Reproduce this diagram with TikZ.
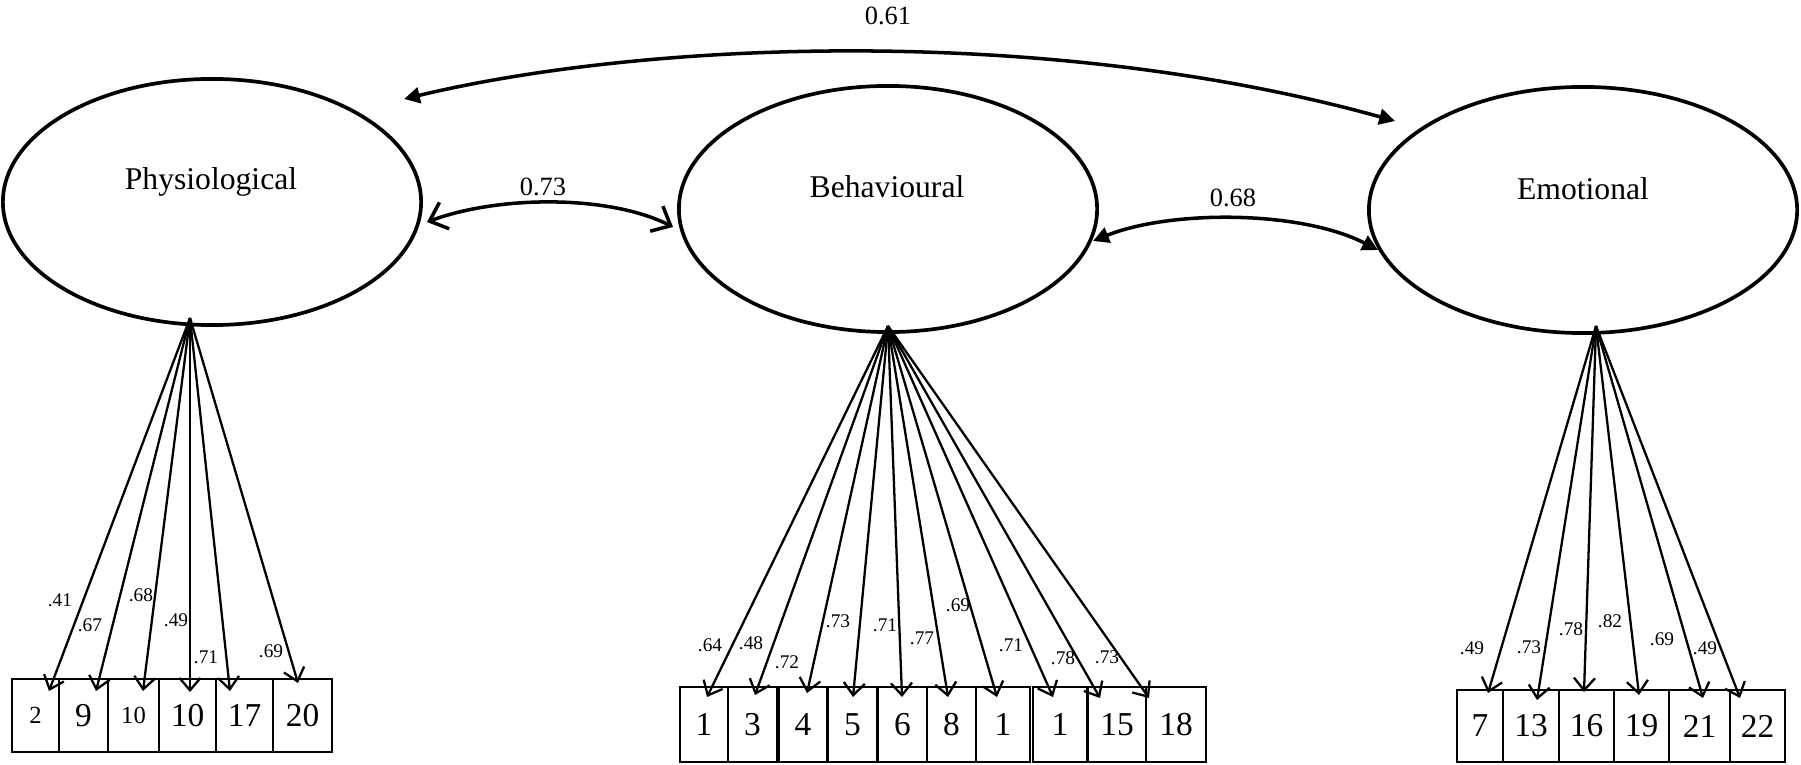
\documentclass[tikz,border=0pt]{standalone}
\usepackage{fontspec}
\setmainfont{Liberation Serif}
\usepackage{tikz}
\usetikzlibrary{shapes.geometric}
\usetikzlibrary{arrows.meta}

\newcommand{\smallnum}[1]{{\fontsize{7}{8}\selectfont #1}}

\begin{document}
\begin{tikzpicture}[x=0.01cm, y=-0.01cm,
	latent/.style={ellipse, draw, line width=1.05pt, minimum width=4.18cm, minimum height=2.46cm, inner sep=0pt},
	factorname/.style={font=\fontsize{9}{11}\selectfont, inner sep=0pt},
	item/.style={rectangle, draw, line width=0.8pt, minimum height=0.73cm, inner sep=0pt, font=\fontsize{9.5}{11}\selectfont},
	load/.style={line width=0.65pt, -{Straight Barb[length=3.5pt,width=6pt]}},
	loadlbl/.style={font=\fontsize{5.5}{6}\selectfont, inner sep=0pt},
	corr/.style={line width=1pt, {Triangle[length=4.5pt,width=4.5pt]}-{Triangle[length=4.5pt,width=4.5pt]}},
	corrbarb/.style={line width=1pt, {Straight Barb[length=4.5pt,width=8pt]}-{Straight Barb[length=4.5pt,width=8pt]}},
	corrlbl/.style={font=\fontsize{7.5}{9}\selectfont, inner sep=0pt}]
	\useasboundingbox (0,0) rectangle (1801,764);
	% Latent factors
	\node[latent] (phys) at (212,202) {};
	\node[latent] (beh) at (888,209) {};
	\node[latent, minimum width=4.28cm] (emo) at (1583,210) {};
	\node[factorname] (physname) at (211,182) {Physiological};
	\node[factorname] (behname) at (887,187) {Behavioural};
	\node[factorname] (emoname) at (1583,189) {Emotional};
	% Correlations
	\coordinate (c61a) at (404,99);
	\coordinate (c61b) at (1395,121);
	\coordinate (c73a) at (427,222);
	\coordinate (c73b) at (673,227);
	\coordinate (c68a) at (1093,241);
	\coordinate (c68b) at (1378,250);
	\draw[corr] (c61a) .. controls (650,40) and (1050,25) .. (c61b);
	\draw[corrbarb] (c73a) .. controls (500,195) and (610,195) .. (c73b);
	\draw[corr] (c68a) .. controls (1170,210) and (1300,210) .. (c68b);
	\node[corrlbl] (r61) at (888,16) {0.61};
	\node[corrlbl] (r73) at (543,187) {0.73};
	\node[corrlbl] (r68) at (1233,198) {0.68};
	% Items
	\foreach \l/\r/\t [count=\i] in {12/59/\smallnum{2}, 59/108/9, 108/159/\smallnum{10}, 159/216/10, 216/273/17, 273/332/20}
		\node[item, minimum width={(\r-\l)*0.01cm}] (p\i) at ({(\l+\r)/2},715.5) {\t};
	\foreach \l/\r/\t [count=\i] in {680/728/1, 728/777/3, 779/827/4, 828/877/5, 878/927/6, 927/976/8, 976/1030/1, 1033/1087/1, 1088/1146/15, 1146/1206/18}
		\node[item, minimum height=0.75cm, minimum width={(\r-\l)*0.01cm}] (b\i) at ({(\l+\r)/2},724.5) {\t};
	\foreach \l/\r/\t [count=\i] in {1457/1503/7, 1503/1559/13, 1559/1614/16, 1614/1669/19, 1669/1730/21, 1730/1785/22}
		\node[item, minimum height=0.72cm, minimum width={(\r-\l)*0.01cm}] (e\i) at ({(\l+\r)/2},726) {\t};
	% Loadings
	\coordinate (psrc) at (190,318);
	\coordinate (bsrc) at (888,326);
	\coordinate (esrc) at (1596,326);
	\foreach \x/\y/\v/\lx/\ly [count=\i] in {49/691/.41/60/600, 96/691/.67/90/625, 143/691/.68/141/595, 190/692/.49/176/620, 230/691/.71/206/657, 298/683/.69/271/651}{
		\coordinate (pt\i) at (\x,\y);
		\draw[load] (psrc) -- (pt\i);
		\node[loadlbl] (pl\i) at (\lx,\ly) {\v};
	}
	\foreach \x/\y/\v/\lx/\ly [count=\i] in {707/697/.64/710/645, 755/695/.48/751/643, 807/693/.72/787/662, 853/697/.73/838/621, 902/697/.71/885/625, 948/697/.77/922/638, 997/697/.69/958/605, 1053/697/.71/1011/645, 1100/698/.78/1063/658, 1149/698/.73/1107/657}{
		\coordinate (bt\i) at (\x,\y);
		\draw[load] (bsrc) -- (bt\i);
		\node[loadlbl] (bl\i) at (\lx,\ly) {\v};
	}
	\foreach \x/\y/\v/\lx/\ly [count=\i] in {1488/693/.49/1472/648, 1537/700/.73/1529/647, 1584/692/.78/1571/629, 1639/695/.82/1610/621, 1703/698/.69/1662/639, 1740/698/.49/1705/648}{
		\coordinate (et\i) at (\x,\y);
		\draw[load] (esrc) -- (et\i);
		\node[loadlbl] (el\i) at (\lx,\ly) {\v};
	}
\end{tikzpicture}
\end{document}
